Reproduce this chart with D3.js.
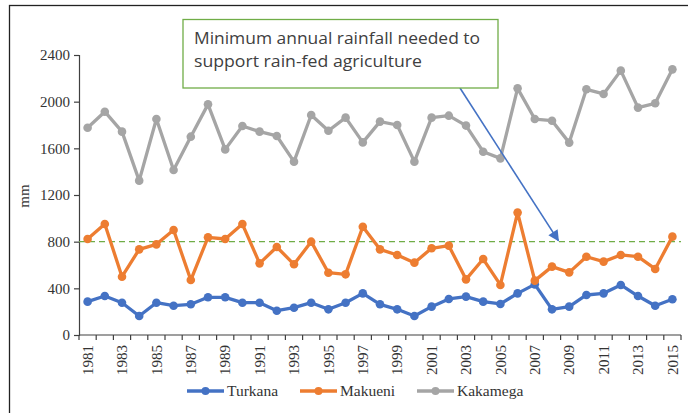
<!DOCTYPE html>
<html>
<head>
<meta charset="utf-8">
<script src="https://cdn.jsdelivr.net/npm/d3@7"></script>
<style>
  html, body { margin: 0; padding: 0; background: #fff; }
  svg { display: block; }
  .serif { font-family: "Liberation Serif", "Times New Roman", "DejaVu Serif", serif; }
</style>
</head>
<body>
<svg id="chart" width="688" height="413"></svg>
<script>
// Annual rainfall (mm) for three Kenyan counties, 1981–2015
const years = ["1981","1982","1983","1984","1985","1986","1987","1988","1989","1990",
               "1991","1992","1993","1994","1995","1996","1997","1998","1999","2000",
               "2001","2002","2003","2004","2005","2006","2007","2008","2009","2010",
               "2011","2012","2013","2014","2015"];
const turkana  = [286,334,277,163,277,251,263,323,323,277,
                  277,208,234,277,220,277,357,263,220,163,
                  243,309,329,286,266,357,434,220,243,343,
                  357,429,334,251,306];
const makueni  = [823,951,500,734,777,900,471,837,823,951,
                  614,754,606,800,534,520,928,734,686,620,
                  743,766,477,651,429,1049,466,586,537,671,
                  629,686,671,566,843];
const kakamega = [1777,1914,1743,1323,1851,1414,1700,1977,1591,1791,
                  1743,1706,1486,1886,1751,1863,1651,1829,1800,1486,
                  1863,1880,1795,1571,1514,2114,1851,1837,1649,2106,
                  2066,2266,1949,1986,2277];
const yTicks = [0, 400, 800, 1200, 1600, 2000, 2400];
const threshold = 800;
const seriesNames = ["Turkana", "Makueni", "Kakamega"];
const seriesColors = ["#4472C4", "#ED7D31", "#A5A5A5"];
const noteLines = ["Minimum annual rainfall needed to", "support rain-fed agriculture"];

const series = [turkana, makueni, kakamega].map((vals, i) => ({
  name: seriesNames[i], color: seriesColors[i], values: vals
}));

const svg = d3.select("#chart");

// outer frame
svg.append("rect")
  .attr("x", 9.5).attr("y", 5.5).attr("width", 700).attr("height", 420)
  .attr("fill", "#fff").attr("stroke", "#222").attr("stroke-width", 1.3);

const x = d3.scaleBand().domain(years).range([79, 681]).padding(0);
const y = d3.scaleLinear().domain([0, 2400]).range([335, 55]);
const cx = d => x(d) + x.bandwidth() / 2;

// y axis
const yAxis = svg.append("g").attr("transform", "translate(79,0)")
  .call(d3.axisLeft(y).tickValues(yTicks).tickSize(5).tickPadding(4).tickFormat(d3.format("d")));
yAxis.attr("font-family", null).attr("font-size", null);
yAxis.select(".domain").attr("stroke", "#404040").attr("stroke-width", 1.2);
yAxis.selectAll(".tick line").attr("stroke", "#404040").attr("stroke-width", 1.2);
yAxis.selectAll("text").attr("class", "serif").style("font-size", "15px").attr("fill", "#333");

// x axis: ticks at category boundaries, labels on every other year
const xg = svg.append("g").attr("transform", "translate(0,335)");
xg.append("line").attr("x1", 79).attr("x2", 681).attr("y1", 0).attr("y2", 0)
  .attr("stroke", "#404040").attr("stroke-width", 1.2);
const edges = years.map(d => x(d)).concat([x(years[years.length - 1]) + x.bandwidth()]);
xg.selectAll("line.tk").data(edges).enter().append("line")
  .attr("class", "tk")
  .attr("x1", d => d).attr("x2", d => d)
  .attr("y1", 0).attr("y2", 5).attr("stroke", "#404040").attr("stroke-width", 1.2);
xg.selectAll("text").data(years.filter((d, i) => i % 2 === 0)).enter().append("text")
  .attr("class", "serif")
  .attr("transform", d => `translate(${cx(d)},10) rotate(-90)`)
  .attr("text-anchor", "end").attr("dy", "0.35em")
  .style("font-size", "15px").attr("fill", "#333")
  .text(d => d);

// y axis title
svg.append("text").attr("class", "serif")
  .attr("transform", "translate(24,196) rotate(-90)")
  .attr("text-anchor", "middle").attr("dy", "0.35em")
  .style("font-size", "15px").attr("fill", "#333")
  .text("mm");

// threshold line
svg.append("line")
  .attr("x1", 79).attr("x2", 681).attr("y1", y(threshold)).attr("y2", y(threshold))
  .attr("stroke", "#70AD47").attr("stroke-width", 1.2).attr("stroke-dasharray", "6,4");

// series lines and markers
const line = d3.line().x((d, i) => cx(years[i])).y(d => y(d));
series.forEach(s => {
  const g = svg.append("g");
  g.append("path").datum(s.values).attr("d", line)
    .attr("fill", "none").attr("stroke", s.color).attr("stroke-width", 3.3)
    .attr("stroke-linejoin", "round");
  g.selectAll("circle").data(s.values).enter().append("circle")
    .attr("cx", (d, i) => cx(years[i])).attr("cy", d => y(d)).attr("r", 4.3)
    .attr("fill", s.color);
});

// annotation arrow pointing at the threshold
const defs = svg.append("defs");
defs.append("marker").attr("id", "arrowhead")
  .attr("viewBox", "0 0 10 10").attr("refX", 9).attr("refY", 5)
  .attr("markerWidth", 13).attr("markerHeight", 11).attr("orient", "auto")
  .attr("markerUnits", "userSpaceOnUse")
  .append("path").attr("d", "M0,0 L10,5 L0,10 Z").attr("fill", "#4472C4");
svg.append("line")
  .attr("x1", 460).attr("y1", 88)
  .attr("x2", x("2008") + x.bandwidth() * 0.87).attr("y2", y(threshold) - 1)
  .attr("stroke", "#4472C4").attr("stroke-width", 1.6)
  .attr("marker-end", "url(#arrowhead)");

// annotation box
svg.append("rect")
  .attr("x", 183).attr("y", 19.5).attr("width", 315).attr("height", 68.5)
  .attr("fill", "#fff").attr("stroke", "#70AD47").attr("stroke-width", 1.3);
const noteWidths = [286, 228];
svg.selectAll("text.note").data(noteLines).enter().append("text")
  .attr("class", "note")
  .attr("x", 194).attr("y", (d, i) => 44 + i * 22.5)
  .style("font-family", "'Open Sans', 'Noto Sans', sans-serif").style("font-size", "15.5px")
  .attr("fill", "#404040")
  .attr("textLength", (d, i) => noteWidths[i]).attr("lengthAdjust", "spacingAndGlyphs")
  .text(d => d);

// legend
const legendX = [187, 300, 417];
const lg = svg.append("g");
series.forEach((s, i) => {
  const g = lg.append("g").attr("transform", `translate(${legendX[i]},391)`);
  g.append("line").attr("x1", 0).attr("x2", 37).attr("y1", 0).attr("y2", 0)
    .attr("stroke", s.color).attr("stroke-width", 3.3);
  g.append("circle").attr("cx", 18.5).attr("cy", 0).attr("r", 4).attr("fill", s.color);
  g.append("text").attr("class", "serif").attr("x", 40).attr("y", 0).attr("dy", "0.33em")
    .style("font-size", "15.5px").attr("fill", "#333")
    .text(s.name);
});
</script>
</body>
</html>
